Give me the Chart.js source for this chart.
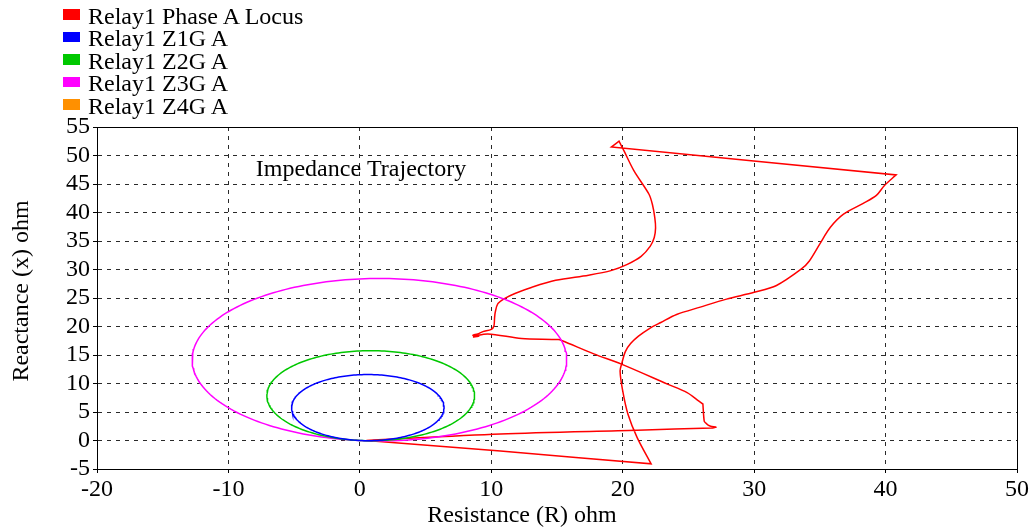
<!DOCTYPE html>
<html>
<head>
<meta charset="utf-8">
<script src="https://cdn.jsdelivr.net/npm/chart.js@4"></script>
<style>
  body { margin: 0; background: #fff; }
  #wrap { position: relative; width: 1032px; height: 529px; }
  #legend {
    position: absolute; left: 63px; top: 4.6px;
    font: 24px "Liberation Serif", "Times New Roman", serif; color: #000;
  }
  #legend .item { position: relative; height: 22.5px; line-height: 22.5px; padding-left: 25px; white-space: nowrap; }
  #legend .box { position: absolute; left: 0; top: 4.7px; width: 17px; height: 10.5px; }
</style>
</head>
<body>
<div id="wrap">
  <canvas id="chart" width="1032" height="529"></canvas>
  <div id="legend"></div>
</div>
<script>
const seriesLabels = ['Relay1 Phase A Locus', 'Relay1 Z1G A', 'Relay1 Z2G A', 'Relay1 Z3G A', 'Relay1 Z4G A'];
const seriesColors = ['#ff0000', '#0000ff', '#00c800', '#ff00ff', '#ff9000'];

// apparent impedance seen by relay 1, phase A (ohm);
// points repeated at the sharp turns keep the smoothed line from rounding them
const locusR = [
  8.6, 9.05, 8.6, 8.97, 9.36, 10.0, 10.2, 10.25, 10.3, 10.5, 11.0, 11.8, 13.1, 14.9, 17.4,
  19.1, 20.35, 21.4, 22.1, 22.4, 22.5, 22.44, 22.26, 22.0, 20.86, 20.1, 19.72, 19.72, 19.14, 19.14,
  40.8, 40.8, 39.9, 39.3, 38.3, 36.8, 35.8, 35.0, 34.2, 33.6, 31.7, 30.0, 27.9, 25.9, 24.1,
  22.9, 22.0, 21.2, 20.6, 20.2, 19.95, 19.8, 20.0, 20.4, 21.1, 22.16, 22.16,
  10.7, 0.5, 0.5, 10.7, 21.1, 26.8, 26.8, 27.1, 26.7, 26.5, 26.3, 26.2, 26.1, 26.1, 25.8, 24.9, 23.4,
  19.9, 17.8, 15.4, 15.1, 12.3, 9.74, 8.7
];
const locusX = [
  18.15, 18.3, 18.45, 18.7, 19.1, 19.5, 20.1, 21.5, 22.5, 24.0, 24.9, 25.8, 26.9, 28.1, 29.0,
  29.8, 30.9, 32.3, 34.1, 35.6, 37.3, 39.1, 41.4, 43.2, 47.3, 50.8, 52.5, 52.5, 51.5, 51.5,
  46.6, 46.6, 44.7, 43.0, 41.6, 39.7, 37.4, 34.5, 31.5, 30.1, 27.2, 26.0, 24.8, 23.4, 22.1,
  20.7, 19.6, 18.3, 17.0, 15.6, 13.7, 12.2, 8.7, 4.6, 0.5, -4.1, -4.1,
  -1.85, 0.0, 0.0, 1.15, 1.8, 2.2, 2.2, 2.35, 2.5, 2.7, 3.1, 3.4, 6.4, 6.4, 6.9, 8.4, 9.9,
  13.4, 15.2, 17.5, 17.7, 17.9, 18.7, 18.3
];

// mho zone settings: diameter (ohm) and characteristic angle (deg); Z4G is not set
const zoneReach = [11.6, 15.8, 28.5];
const zoneAngle = [84, 84, 84];

const xMin = -20, xMax = 50, xStep = 10;
const yMin = -5, yMax = 55, yStep = 5;

const chartTitle = 'Impedance Trajectory';
const titleAt = { x: -7.92, y: 46.45 };
const xTitle = 'Resistance (R) ohm';
const yTitle = 'Reactance (x) ohm';

const fontFamily = '"Liberation Serif", "Times New Roman", serif';
Chart.defaults.font.family = fontFamily;
Chart.defaults.font.size = 24;
Chart.defaults.color = '#000';

// circle through the origin for each mho zone
function mhoCircle(reach, angleDeg) {
  const a = angleDeg * Math.PI / 180;
  const r = reach / 2;
  const cx = r * Math.cos(a), cy = r * Math.sin(a);
  const pts = [];
  for (let i = 0; i <= 240; i++) {
    const t = a + Math.PI + (i / 240) * 2 * Math.PI;
    pts.push({ x: cx + r * Math.cos(t), y: cy + r * Math.sin(t) });
  }
  return pts;
}

const datasets = [{
  label: seriesLabels[0],
  data: locusR.map((r, i) => ({ x: r, y: locusX[i] })),
  borderColor: seriesColors[0],
  tension: 0.3,
  order: 10
}];
seriesLabels.slice(1).forEach((label, i) => {
  datasets.push({
    label,
    data: i < zoneReach.length ? mhoCircle(zoneReach[i], zoneAngle[i]) : [],
    borderColor: seriesColors[i + 1],
    tension: 0,
    order: i
  });
});
datasets.forEach(d => Object.assign(d, {
  showLine: true, pointRadius: 0, borderWidth: 1.5, fill: false
}));

// outer frame around the plot area
const frame = {
  id: 'frame',
  afterDraw(chart) {
    const { ctx, chartArea: a } = chart;
    ctx.save();
    ctx.strokeStyle = '#000';
    ctx.lineWidth = 1;
    ctx.strokeRect(Math.round(a.left) + 0.5, Math.round(a.top) + 0.5,
      Math.round(a.right - a.left), Math.round(a.bottom - a.top));
    ctx.restore();
  }
};

// chart title inside the plot, plus both axis titles
const labels = {
  id: 'labels',
  afterDraw(chart) {
    const { ctx, scales } = chart;
    ctx.save();
    ctx.font = '24px ' + fontFamily;
    ctx.fillStyle = '#000';
    ctx.textBaseline = 'alphabetic';
    ctx.textAlign = 'left';
    ctx.fillText(chartTitle, scales.x.getPixelForValue(titleAt.x), scales.y.getPixelForValue(titleAt.y));
    ctx.textAlign = 'center';
    ctx.fillText(xTitle, 522, 522);
    ctx.translate(28, 291);
    ctx.rotate(-Math.PI / 2);
    ctx.fillText(yTitle, 0, 0);
    ctx.restore();
  }
};

const gridOpts = {
  color: '#2a2a2a', lineWidth: 1, borderDash: [4, 5],
  tickLength: 4, tickColor: '#000', tickBorderDash: []
};
const borderOpts = { display: true, color: '#000', width: 1, dash: [4, 5] };

const chart = new Chart(document.getElementById('chart'), {
  type: 'scatter',
  data: { datasets },
  options: {
    responsive: false,
    animation: false,
    layout: { padding: { top: 127, right: 15, left: 0, bottom: 0 } },
    plugins: {
      legend: { display: false },
      title: { display: false },
      tooltip: { enabled: false }
    },
    scales: {
      x: {
        type: 'linear', min: xMin, max: xMax,
        ticks: { stepSize: xStep, padding: 2, maxRotation: 0, autoSkip: false },
        grid: gridOpts, border: borderOpts,
        afterFit: s => { s.height = 60; }
      },
      y: {
        type: 'linear', min: yMin, max: yMax,
        ticks: { stepSize: yStep, padding: 3, autoSkip: false },
        grid: gridOpts, border: borderOpts,
        afterFit: s => { s.width = 97; }
      }
    }
  },
  plugins: [frame, labels]
});

// legend rows, one per series
const legendEl = document.getElementById('legend');
chart.data.datasets.forEach((ds, i) => {
  const row = document.createElement('div');
  row.className = 'item';
  const box = document.createElement('span');
  box.className = 'box';
  box.style.background = seriesColors[i];
  row.appendChild(box);
  row.appendChild(document.createTextNode(ds.label));
  legendEl.appendChild(row);
});
</script>
</body>
</html>
